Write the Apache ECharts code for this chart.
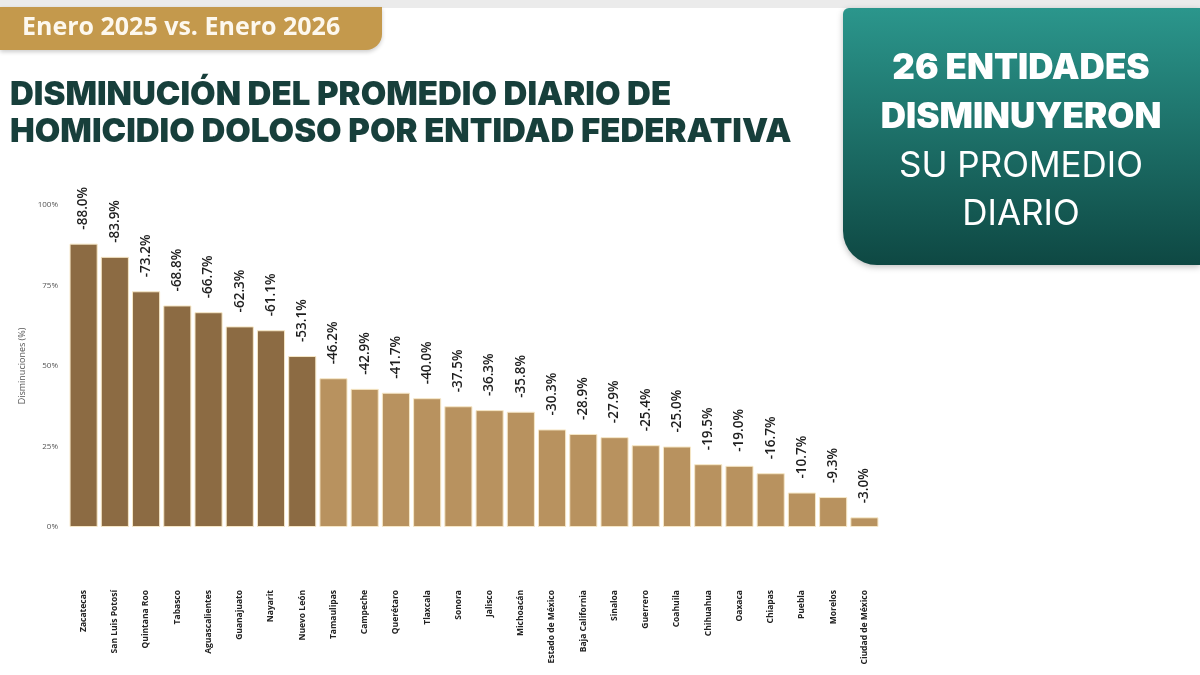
<!DOCTYPE html>
<html>
<head>
<meta charset="utf-8">
<script src="https://cdn.jsdelivr.net/npm/echarts@6/dist/echarts.min.js"></script>
<style>
  html, body { margin: 0; padding: 0; background: #fff; }
  #chart { width: 1200px; height: 675px; }
</style>
</head>
<body>
<div id="chart"></div>
<script>
// datos
const entidades = ["Zacatecas", "San Luis Potosí", "Quintana Roo", "Tabasco", "Aguascalientes", "Guanajuato",
  "Nayarit", "Nuevo León", "Tamaulipas", "Campeche", "Querétaro", "Tlaxcala", "Sonora", "Jalisco",
  "Michoacán", "Estado de México", "Baja California", "Sinaloa", "Guerrero", "Coahuila", "Chihuahua",
  "Oaxaca", "Chiapas", "Puebla", "Morelos", "Ciudad de México"];
const disminuciones = [88.0, 83.9, 73.2, 68.8, 66.7, 62.3, 61.1, 53.1, 46.2, 42.9, 41.7, 40.0, 37.5,
  36.3, 35.8, 30.3, 28.9, 27.9, 25.4, 25.0, 19.5, 19.0, 16.7, 10.7, 9.3, 3.0];
const yTicks = [0, 25, 50, 75, 100];
const numOscuras = 8;

const colorOscuro = "#8c6b43";
const colorClaro = "#b8925f";

(function () {
  const myChart = echarts.init(document.getElementById("chart"));
  const option = {
    backgroundColor: "#ffffff",
    animation: false,
    title: {
      text: "DISMINUCIÓN DEL PROMEDIO DIARIO DE\nHOMICIDIO DOLOSO POR ENTIDAD FEDERATIVA",
      left: 5,
      top: 72,
      textStyle: {
        fontFamily: "Inter",
        fontWeight: 900,
        fontSize: 33,
        lineHeight: 37,
        color: "#173f3b"
      }
    },
    graphic: [
      // franja superior
      { type: "rect", shape: { x: 0, y: 0, width: 1200, height: 8 }, style: { fill: "#ebebeb" }, z: 1 },
      // etiqueta de periodo
      {
        type: "rect",
        shape: { x: 0, y: 7, width: 382, height: 43, r: [0, 0, 16, 0] },
        style: { fill: "#c4994c", shadowBlur: 4, shadowColor: "rgba(0,0,0,0.2)", shadowOffsetY: 2 },
        z: 2
      },
      {
        type: "text",
        x: 22, y: 28,
        style: { text: "Enero 2025 vs. Enero 2026", fill: "#fdf8ee", font: "bold 25px 'Open Sans'", verticalAlign: "middle" },
        z: 3
      },
      // recuadro verde
      {
        type: "rect",
        shape: { x: 843, y: 8, width: 357, height: 257, r: [6, 0, 0, 34] },
        style: {
          fill: new echarts.graphic.LinearGradient(0, 0, 0, 1, [
            { offset: 0, color: "#2b968c" },
            { offset: 1, color: "#0e4843" }
          ]),
          shadowBlur: 6, shadowColor: "rgba(0,0,0,0.25)", shadowOffsetY: 2
        },
        z: 2
      },
      {
        type: "text", x: 1021, y: 68,
        style: { text: "26 ENTIDADES", fill: "#fff", font: "900 35px Inter", align: "center", verticalAlign: "middle" },
        z: 3
      },
      {
        type: "text", x: 1021, y: 117,
        style: { text: "DISMINUYERON", fill: "#fff", font: "900 35px Inter", align: "center", verticalAlign: "middle" },
        z: 3
      },
      {
        type: "text", x: 1021, y: 166,
        style: { text: "SU PROMEDIO", fill: "#fff", font: "normal 35px Inter", align: "center", verticalAlign: "middle" },
        z: 3
      },
      {
        type: "text", x: 1021, y: 214,
        style: { text: "DIARIO", fill: "#fff", font: "normal 35px Inter", align: "center", verticalAlign: "middle" },
        z: 3
      }
    ],
    grid: {
      left: 68,
      right: 320,
      top: 205,
      bottom: 148
    },
    xAxis: {
      type: "category",
      data: entidades,
      axisLine: { show: false },
      axisTick: { show: false },
      axisLabel: {
        interval: 0,
        rotate: 90,
        margin: 63,
        fontSize: 8.5,
        fontWeight: "bold",
        fontFamily: "Open Sans",
        color: "#222"
      }
    },
    yAxis: {
      type: "value",
      min: 0,
      max: 100,
      interval: 25,
      name: "Disminuciones (%)",
      nameLocation: "middle",
      nameGap: 35,
      nameTextStyle: { fontSize: 9, color: "#555", fontFamily: "Open Sans" },
      axisLine: { show: false },
      axisTick: { show: false },
      splitLine: { show: false },
      axisLabel: {
        margin: 10,
        fontSize: 8,
        color: "#555",
        fontFamily: "Open Sans",
        formatter: (v) => yTicks.includes(v) ? v + "%" : ""
      }
    },
    series: [
      {
        type: "bar",
        data: disminuciones.map((v, i) => ({
          value: v,
          itemStyle: { color: i < numOscuras ? colorOscuro : colorClaro }
        })),
        barWidth: "90%",
        itemStyle: {
          borderColor: "#f6e7c6",
          borderWidth: 1
        },
        label: {
          show: true,
          position: "top",
          rotate: 90,
          align: "left",
          verticalAlign: "middle",
          distance: 14,
          fontSize: 13.5,
          fontWeight: 600,
          fontFamily: "Open Sans",
          color: "#1e1e1e",
          formatter: (p) => "-" + p.value.toFixed(1) + "%"
        }
      }
    ]
  };
  myChart.setOption(option);

  window.addEventListener("resize", () => {
    myChart.resize()
  })
})();
</script>
</body>
</html>
